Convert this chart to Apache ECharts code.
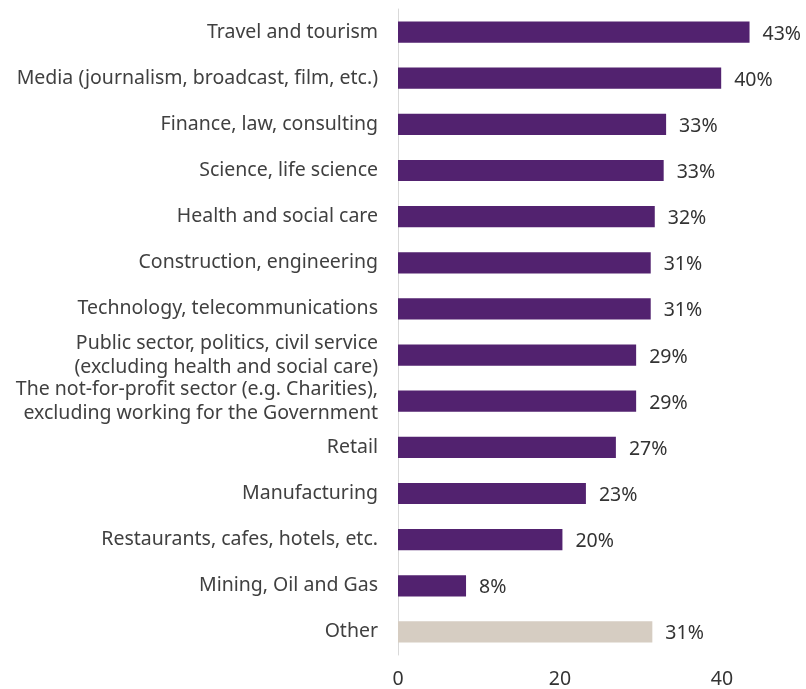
<!DOCTYPE html>
<html>
<head>
<meta charset="utf-8">
<script src="https://cdn.jsdelivr.net/npm/echarts@6/dist/echarts.min.js"></script>
<style>
  html, body { margin: 0; padding: 0; background: #ffffff; }
  #chart { width: 806px; height: 689px; }
</style>
</head>
<body>
<div id="chart"></div>
<script>
// Sectors, listed top to bottom
const categories = [
  'Travel and tourism',
  'Media (journalism, broadcast, film, etc.)',
  'Finance, law, consulting',
  'Science, life science',
  'Health and social care',
  'Construction, engineering',
  'Technology, telecommunications',
  'Public sector, politics, civil service\n(excluding health and social care)',
  'The not-for-profit sector (e.g. Charities),\nexcluding working for the Government',
  'Retail',
  'Manufacturing',
  'Restaurants, cafes, hotels, etc.',
  'Mining, Oil and Gas',
  'Other'
];

// Share of respondents (%)
const values = [43.4, 39.9, 33.1, 32.8, 31.7, 31.2, 31.2, 29.4, 29.4, 26.9, 23.2, 20.3, 8.4, 31.4];

// Categories drawn in the muted colour
const mutedCategories = ['Other'];

const xTicks = { min: 0, max: 50, interval: 20 };

const PURPLE = '#52226f';
const MUTED = '#d6cdc2';
const FONT = '"Noto Sans", sans-serif';
const FONT_SIZE = 19.5;

const chart = echarts.init(document.getElementById('chart'), null, { renderer: 'canvas' });

chart.setOption({
  animation: false,
  backgroundColor: '#ffffff',
  grid: { left: 398, right: 3, top: 9, bottom: 33 },
  xAxis: {
    type: 'value',
    min: xTicks.min,
    max: xTicks.max,
    interval: xTicks.interval,
    axisLine: { show: false },
    axisTick: { show: false },
    splitLine: { show: false },
    axisLabel: {
      showMaxLabel: false,
      color: '#333333',
      fontSize: FONT_SIZE,
      fontFamily: FONT,
      margin: 14
    }
  },
  yAxis: {
    type: 'category',
    inverse: true,
    data: categories,
    axisLine: { show: true, lineStyle: { color: '#d9d9d9', width: 1 } },
    axisTick: { show: false },
    axisLabel: {
      color: '#404040',
      fontSize: FONT_SIZE,
      fontFamily: FONT,
      margin: 20,
      lineHeight: 24,
      padding: [4, 0, 0, 0],
      align: 'right'
    }
  },
  series: [{
    type: 'bar',
    barCategoryGap: '54%',
    data: values.map((v, i) => ({
      value: v,
      itemStyle: { color: mutedCategories.includes(categories[i]) ? MUTED : PURPLE }
    })),
    label: {
      show: true,
      position: 'right',
      distance: 13,
      offset: [0, 2],
      color: '#333333',
      fontSize: FONT_SIZE,
      fontFamily: FONT,
      formatter: p => Math.round(p.value) + '%'
    }
  }]
});
</script>
</body>
</html>
